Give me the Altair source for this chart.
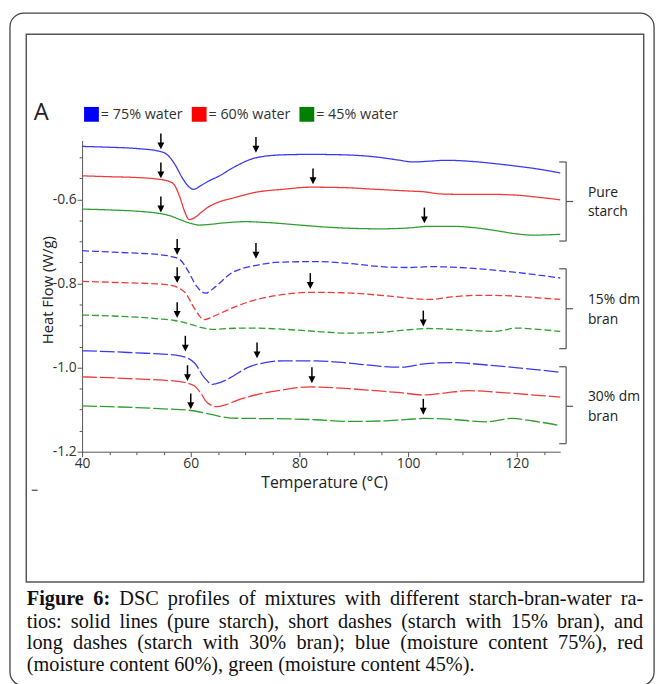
import altair as alt
import pandas as pd

# ---------------- data ----------------
# Pure starch (solid lines)
T_pure_blue = [40, 45, 50, 54, 55.5, 57, 58.5, 59.5, 60.5, 62, 63.5, 65, 68, 72, 77, 82, 88, 94, 98, 101, 104, 107, 112, 116, 120, 124, 128]
HF_pure_blue = [-0.474, -0.476, -0.479, -0.485, -0.492, -0.515, -0.550, -0.568, -0.576, -0.566, -0.555, -0.546, -0.523, -0.501, -0.494, -0.493, -0.494, -0.499, -0.506, -0.511, -0.509, -0.507, -0.510, -0.515, -0.521, -0.528, -0.537]
T_pure_red = [40, 45, 50, 54, 56, 57, 58, 59, 59.7, 60.5, 62, 63, 65, 68, 72, 77, 82, 88, 94, 100, 103, 106, 110, 115, 120, 124, 128]
HF_pure_red = [-0.544, -0.546, -0.548, -0.552, -0.557, -0.566, -0.595, -0.633, -0.648, -0.645, -0.630, -0.620, -0.607, -0.596, -0.583, -0.576, -0.571, -0.572, -0.576, -0.580, -0.582, -0.587, -0.588, -0.588, -0.590, -0.595, -0.601]
T_pure_green = [40, 45, 50, 54, 56, 58, 60, 61.5, 63, 66, 70, 74, 80, 85, 90, 95, 100, 104, 108, 112, 116, 120, 123, 128]
HF_pure_green = [-0.623, -0.625, -0.628, -0.633, -0.638, -0.648, -0.657, -0.661, -0.660, -0.656, -0.653, -0.655, -0.661, -0.666, -0.669, -0.670, -0.668, -0.664, -0.664, -0.667, -0.674, -0.682, -0.685, -0.683]

# Starch with 15% bran (short dashes)
T_b15_blue = [40, 45, 50, 54, 56.5, 58, 59.5, 61, 62.7, 64.5, 67.3, 72, 77, 83, 89, 95, 100, 104, 108, 112, 118, 124, 128]
HF_b15_blue = [-0.722, -0.725, -0.728, -0.731, -0.736, -0.743, -0.770, -0.805, -0.823, -0.808, -0.777, -0.757, -0.749, -0.748, -0.752, -0.760, -0.762, -0.760, -0.761, -0.764, -0.771, -0.780, -0.787]
T_b15_red = [40, 45, 50, 54, 56.5, 58, 59, 60.7, 62.5, 64, 67.3, 71.6, 76, 82, 88, 94, 98, 101, 104, 108, 113, 118, 124, 128]
HF_b15_red = [-0.795, -0.797, -0.799, -0.801, -0.805, -0.812, -0.822, -0.860, -0.886, -0.879, -0.860, -0.840, -0.828, -0.821, -0.822, -0.827, -0.832, -0.836, -0.838, -0.832, -0.828, -0.829, -0.834, -0.838]
T_b15_green = [40, 45, 50, 54, 57, 60, 62, 64.3, 67, 71, 76, 82, 89, 95, 100, 103.6, 108, 112, 115.8, 120, 124, 128]
HF_b15_green = [-0.875, -0.877, -0.880, -0.884, -0.888, -0.897, -0.905, -0.909, -0.907, -0.906, -0.908, -0.913, -0.918, -0.916, -0.910, -0.907, -0.909, -0.912, -0.914, -0.906, -0.909, -0.914]

# Starch with 30% bran (long dashes)
T_b30_blue = [40, 45, 50, 55, 58, 59.5, 60.7, 62.5, 64, 65.5, 67.3, 71, 77, 83, 89, 95, 99, 103, 108, 113, 118, 123, 128]
HF_b30_blue = [-0.960, -0.962, -0.965, -0.968, -0.972, -0.978, -0.989, -1.024, -1.040, -1.035, -1.024, -0.997, -0.984, -0.984, -0.989, -0.997, -0.999, -0.991, -0.988, -0.992, -0.998, -1.004, -1.011]
T_b30_red = [40, 45, 50, 55, 58.8, 60.7, 61.8, 63, 64.8, 66.5, 68.5, 72.2, 76, 82, 89, 94, 98, 103, 107, 111, 116, 122, 128]
HF_b30_red = [-1.022, -1.024, -1.027, -1.030, -1.035, -1.044, -1.060, -1.083, -1.093, -1.088, -1.078, -1.064, -1.055, -1.046, -1.050, -1.055, -1.059, -1.065, -1.060, -1.055, -1.058, -1.064, -1.070]
T_b30_green = [40, 45, 50, 55, 60, 63.7, 67.3, 72, 78, 83, 89, 95, 100, 103, 108, 114.5, 119, 123, 128]
HF_b30_green = [-1.091, -1.093, -1.095, -1.098, -1.102, -1.111, -1.120, -1.121, -1.122, -1.124, -1.128, -1.127, -1.123, -1.121, -1.123, -1.129, -1.121, -1.127, -1.138]

groups = ["Pure starch", "15% dm bran", "30% dm bran"]
moistures = ["75% water", "60% water", "45% water"]
line_colors = ["#3a3af0", "#f03a3a", "#2f9f2f"]
legend_colors = ["#0000ff", "#ff0000", "#008000"]
legend_labels = ["= 75% water", "= 60% water", "= 45% water"]

# arrow tips (temperature, heat flow)
arrow_T = [54.5, 72.0, 54.5, 82.5, 54.5, 103.0,
           57.5, 72.0, 57.5, 82.0, 57.5, 102.8,
           59.0, 72.2, 59.4, 82.3, 60.0, 102.8]
arrow_HF = [-0.481, -0.489, -0.550, -0.564, -0.631, -0.657,
            -0.732, -0.741, -0.799, -0.813, -0.882, -0.902,
            -0.962, -0.978, -1.032, -1.037, -1.099, -1.112]

# brackets on the right (heat-flow span of each group)
bracket_top = [-0.511, -0.765, -0.998]
bracket_bottom = [-0.699, -0.955, -1.181]
bracket_mid = [-0.605, -0.860, -1.092]
bracket_labels = ["Pure\nstarch", "15% dm\nbran", "30% dm\nbran"]

x_ticks = [40, 45, 50, 55, 60, 65, 70, 75, 80, 85, 90, 95, 100, 105, 110, 115, 120, 125]
y_ticks = [-1.2, -1.15, -1.1, -1.05, -1.0, -0.95, -0.9, -0.85, -0.8, -0.75, -0.7, -0.65, -0.6, -0.55, -0.5]

caption_bold = "Figure 6:"
caption_lines = [
    "DSC profiles of mixtures with different starch-bran-water ra-",
    "tios: solid lines (pure starch), short dashes (starch with 15% bran), and",
    "long dashes (starch with 30% bran); blue (moisture content 75%), red",
    "(moisture content 60%), green (moisture content 45%).",
]

# ---------------- tables ----------------
series = [
    (groups[0], moistures[0], T_pure_blue, HF_pure_blue),
    (groups[0], moistures[1], T_pure_red, HF_pure_red),
    (groups[0], moistures[2], T_pure_green, HF_pure_green),
    (groups[1], moistures[0], T_b15_blue, HF_b15_blue),
    (groups[1], moistures[1], T_b15_red, HF_b15_red),
    (groups[1], moistures[2], T_b15_green, HF_b15_green),
    (groups[2], moistures[0], T_b30_blue, HF_b30_blue),
    (groups[2], moistures[1], T_b30_red, HF_b30_red),
    (groups[2], moistures[2], T_b30_green, HF_b30_green),
]
rows = []
for g, m, ts, hs in series:
    for t, h in zip(ts, hs):
        rows.append({"T": t, "HF": h, "group": g, "moisture": m, "series": g + " | " + m})
lines_df = pd.DataFrame(rows)
arrows_df = pd.DataFrame({"T": arrow_T, "HF": arrow_HF})
brackets_df = pd.DataFrame({"top": bracket_top, "bottom": bracket_bottom,
                            "mid": bracket_mid, "label": bracket_labels})
one = pd.DataFrame({"k": [0]})

W, H = 484, 315
FONT = "Open Sans"
AX = "#555555"

x_scale = alt.Scale(domain=[40, 128], nice=False, zero=False)
y_scale = alt.Scale(domain=[-1.2, -0.46], nice=False, zero=False)

x_axis = alt.Axis(
    title="Temperature (°C)", values=x_ticks,
    labelExpr="datum.value % 20 === 0 ? datum.label : ''",
    tickSize={"condition": {"test": "datum.value % 20 === 0", "value": 5}, "value": 3},
    grid=False, domainColor=AX, tickColor=AX, labelColor="#333333",
    labelFont=FONT, labelFontSize=14, labelPadding=0, labelFlush=False,
    titleFont=FONT, titleFontSize=16, titleFontWeight="normal", titleColor="#222222",
    titleX=245, titleY=36, titleAlign="center", titleBaseline="alphabetic",
)
y_axis = alt.Axis(
    title="Heat Flow (W/g)", values=y_ticks,
    labelExpr="round(datum.value*100) % 20 === 0 ? replace(format(datum.value, '.1f'), '\u2212', '-') : ''",
    tickSize={"condition": {"test": "round(datum.value*100) % 20 === 0", "value": 5}, "value": 3},
    grid=False, domainColor=AX, tickColor=AX, labelColor="#333333",
    labelFont=FONT, labelFontSize=14, labelPadding=1, labelFlush=False,
    titleFont=FONT, titleFontSize=15, titleFontWeight="normal", titleColor="#222222",
    titleAngle=270, titleX=-30, titleY=151, titleAlign="center", titleBaseline="alphabetic",
)


def X(field):
    return alt.X(field, type="quantitative", scale=x_scale, axis=x_axis)


def Y(field):
    return alt.Y(field, type="quantitative", scale=y_scale, axis=y_axis)


layers = []

# frames
layers.append(alt.Chart(one).mark_rect(fillOpacity=0, stroke="#444444", strokeWidth=1.3, cornerRadius=14).encode(
    x=alt.value(-73), x2=alt.value(579), y=alt.value(-129), y2=alt.value(552)))
layers.append(alt.Chart(one).mark_rect(fillOpacity=0, stroke="#555555", strokeWidth=1.5).encode(
    x=alt.value(-56.5), x2=alt.value(568.5), y=alt.value(-107.5), y2=alt.value(447)))

# curves
layers.append(alt.Chart(lines_df).mark_line(interpolate="monotone", strokeWidth=1.3).encode(
    x=X("T"), y=Y("HF"),
    color=alt.Color("moisture:N", scale=alt.Scale(domain=moistures, range=line_colors), legend=None),
    strokeDash=alt.StrokeDash("group:N", scale=alt.Scale(domain=groups, range=[[1, 0], [7, 3], [15, 3]]), legend=None),
    detail="series:N",
))

# arrows
layers.append(alt.Chart(arrows_df).mark_rule(color="black", strokeWidth=1.5, yOffset=-16, y2Offset=-6).encode(
    x=X("T"), y=Y("HF"), y2="HF"))
layers.append(alt.Chart(arrows_df).mark_point(shape="M-1,-1L1,-1L0,1Z", size=49, filled=True, color="black",
                                              opacity=1, yOffset=-3.5).encode(x=X("T"), y=Y("HF")))

# brackets
BR = "#555555"
layers.append(alt.Chart(brackets_df).mark_rule(color=BR, strokeWidth=1.2).encode(
    x=alt.value(490), y=Y("top"), y2="bottom"))
layers.append(alt.Chart(brackets_df).mark_rule(color=BR, strokeWidth=1.2).encode(
    x=alt.value(483), x2=alt.value(490), y=Y("top")))
layers.append(alt.Chart(brackets_df).mark_rule(color=BR, strokeWidth=1.2).encode(
    x=alt.value(483), x2=alt.value(490), y=Y("bottom")))
layers.append(alt.Chart(brackets_df).mark_rule(color=BR, strokeWidth=1.2).encode(
    x=alt.value(490), x2=alt.value(497), y=Y("mid")))
layers.append(alt.Chart(brackets_df).mark_text(align="left", baseline="middle", lineBreak="\n", lineHeight=20,
                                               dy=-9, font=FONT, fontSize=14, color="#222222").encode(
    x=alt.value(512), y=Y("mid"), text="label:N"))

# panel letter and colour legend
layers.append(alt.Chart(one).mark_text(text="A", align="left", baseline="alphabetic", font=FONT, fontSize=24,
                                       color="#222222").encode(x=alt.value(-49), y=alt.value(-21)))
sq_x = [2, 111, 220]
for i in range(3):
    layers.append(alt.Chart(one).mark_rect(color=legend_colors[i]).encode(
        x=alt.value(sq_x[i]), x2=alt.value(sq_x[i] + 15), y=alt.value(-34), y2=alt.value(-19)))
    layers.append(alt.Chart(one).mark_text(text=legend_labels[i], align="left", baseline="alphabetic", font=FONT,
                                           fontSize=14.5, color="#333333").encode(
        x=alt.value(sq_x[i] + 17), y=alt.value(-22)))

# small stray mark below the axis
layers.append(alt.Chart(one).mark_rule(color="#444444", strokeWidth=1.2).encode(
    x=alt.value(-51), x2=alt.value(-45), y=alt.value(354)))

# ---------------- caption (justified, Times-metric widths for Liberation Serif) ----------------
CF = "Liberation Serif"
CFS = 20.5
REG = {" ": 250, "(": 333, ")": 333, ",": 250, "-": 333, ".": 250, ":": 278, ";": 278, "%": 833,
       "0": 500, "1": 500, "3": 500, "4": 500, "5": 500, "6": 500, "7": 500,
       "C": 667, "D": 722, "S": 556, "a": 444, "b": 500, "c": 444, "d": 500, "e": 444, "f": 333,
       "g": 500, "h": 500, "i": 278, "l": 278, "m": 778, "n": 500, "o": 500, "p": 500, "r": 333,
       "s": 389, "t": 278, "u": 500, "w": 722, "x": 500}
BOLD = {"F": 611, "i": 278, "g": 500, "u": 556, "r": 444, "e": 444, "6": 500, ":": 333, " ": 250}


def tw(s, table):
    return sum(table.get(ch, 500) for ch in s) * CFS / 1000.0


LEFT, RIGHT = -56.0, 568.0
cap_y = [470, 493, 515, 537]
for li, line in enumerate(caption_lines):
    words = [(w, False) for w in line.split(" ")]
    if li == 0:
        words = [(w, True) for w in caption_bold.split(" ")] + words
    widths = [tw(w, BOLD if b else REG) for w, b in words]
    if li < len(caption_lines) - 1:
        gap = (RIGHT - LEFT - sum(widths)) / (len(words) - 1)
    else:
        gap = tw(" ", REG)
    xpos = LEFT
    for (w, b), wd in zip(words, widths):
        layers.append(alt.Chart(one).mark_text(
            text=w, align="left", baseline="alphabetic", font=CF, fontSize=CFS,
            fontWeight="bold" if b else "normal", color="#111111").encode(
            x=alt.value(round(xpos, 2)), y=alt.value(cap_y[li])))
        xpos += wd + gap

chart = alt.layer(*layers).properties(
    width=W, height=H,
    padding={"left": 75, "top": 130, "right": 101, "bottom": 231},
    autosize=alt.AutoSizeParams(type="none"),
    background="white",
).configure_view(strokeWidth=0)

chart.save("out.html", embed_options={"renderer": "svg", "actions": False})
